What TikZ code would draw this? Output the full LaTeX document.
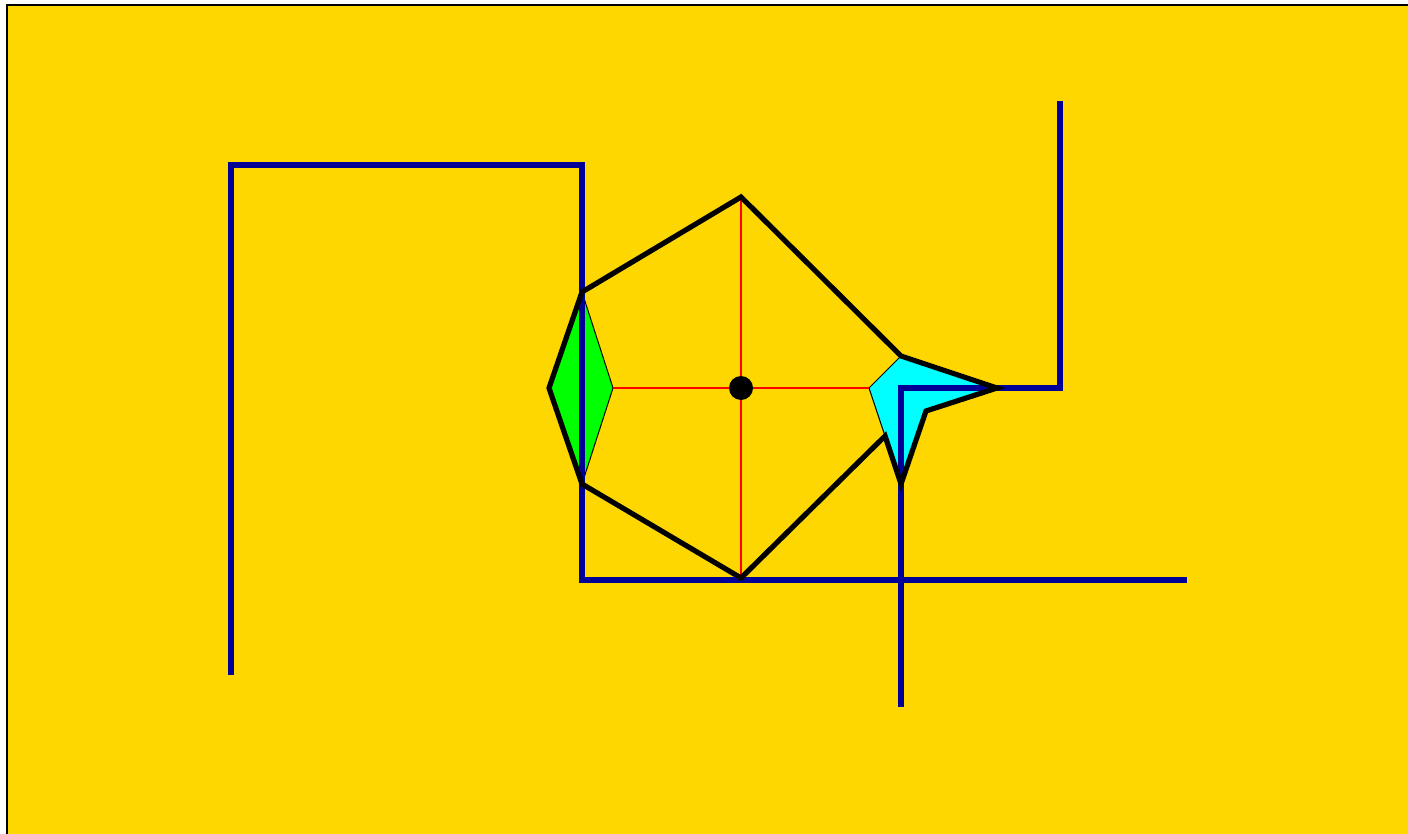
\documentclass[tikz,border=0pt]{standalone}
\definecolor{bggold}{RGB}{255,215,0}
\definecolor{pathblue}{RGB}{0,0,150}
\definecolor{fillgreen}{RGB}{0,255,0}
\definecolor{fillcyan}{RGB}{0,255,255}
\tikzset{
  bluepath/.style={draw=pathblue, line width=3pt, line cap=butt, line join=miter},
  thickblack/.style={draw=black, line width=2.6pt, line join=miter},
  thinblack/.style={draw=black, line width=0.5pt},
  redline/.style={draw=red, line width=0.7pt},
}
\begin{document}
\begin{tikzpicture}[x=0.5pt,y=-0.5pt]
\useasboundingbox (0,0) rectangle (1408,834);
\clip (0,0) rectangle (1408,834);
\fill[white] (0,0) rectangle (1408,834);
\filldraw[fill=bggold, draw=black, line width=1pt] (7,5) rectangle (1420,850);
% points
\coordinate (c) at (741,388);
\coordinate (top) at (741,197);
\coordinate (bot) at (741,578);
\coordinate (tl) at (582,292);
\coordinate (bl) at (582,484);
\coordinate (gl) at (549,388);
\coordinate (gr) at (613,388);
\coordinate (ct) at (901,356);
\coordinate (cl) at (869,388);
\coordinate (cr) at (997,388);
\coordinate (ci) at (926,411);
\coordinate (cb) at (901,484);
\coordinate (ck) at (885,436);
% fills
\filldraw[fill=fillgreen, thinblack] (tl) -- (gr) -- (bl) -- (gl) -- cycle;
\filldraw[fill=fillcyan, thinblack] (ct) -- (cr) -- (ci) -- (cb) -- (cl) -- cycle;
% red construction lines
\draw[redline] (top) -- (bot);
\draw[redline] (gr) -- (cl);
% blue paths
\coordinate (b1s) at (231,675);
\coordinate (b1a) at (231,165);
\coordinate (b1b) at (582,165);
\coordinate (b1c) at (582,580);
\coordinate (b1e) at (1187,580);
\draw[bluepath] (b1s) -- (b1a) -- (b1b) -- (b1c) -- (b1e);
\coordinate (b2s) at (1060,101);
\coordinate (b2a) at (1060,388);
\coordinate (b2b) at (901,388);
\coordinate (b2e) at (901,707);
\draw[bluepath] (b2s) -- (b2a) -- (b2b) -- (b2e);
% thick black outline
\draw[thickblack] (top) -- (ct) -- (cr) -- (ci) -- (cb) -- (ck) -- (bot) -- (bl) -- (gl) -- (tl) -- cycle;
% center dot
\fill[black] (c) circle[radius=12];
\end{tikzpicture}
\end{document}
